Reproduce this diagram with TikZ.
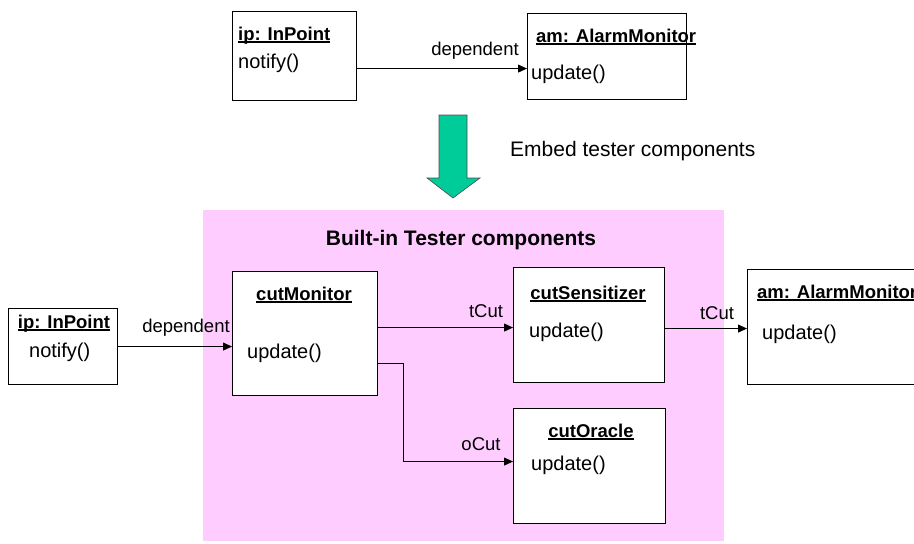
\documentclass[tikz,border=0pt]{standalone}
\usepackage{fontspec}
\setmainfont{Liberation Sans}
\usetikzlibrary{arrows.meta}
\definecolor{pinkbg}{HTML}{FFCCFF}
\definecolor{arrowgreen}{HTML}{00CC99}
\newcommand{\ulname}[1]{\setbox0\hbox{#1}\rlap{\rule[-2.6pt]{\wd0}{1.2pt}}\box0}
\begin{document}
\begin{tikzpicture}[x=1pt,y=-1pt,
  box/.style={draw=black, line width=1.1pt, fill=white, inner sep=0pt, anchor=north west},
  namet/.style={inner sep=0pt, font=\fontsize{18.5}{22}\selectfont\bfseries},
  meth/.style={inner sep=0pt, anchor=base west, font=\fontsize{20}{24}\selectfont},
  lbl/.style={inner sep=0pt, anchor=base, font=\fontsize{18.5}{22}\selectfont},
  conn/.style={draw=black, line width=0.9pt, -{Triangle[length=9pt,width=8pt]}}]
\useasboundingbox (0,0) rectangle (914,544);
\clip (0,0) rectangle (914,544);
% top row
\node[box, minimum width=124pt, minimum height=89pt] (ipT) at (232,11) {};
\node[namet, anchor=base west] (ipTn) at (238,40) {\ulname{ip: InPoint}};
\node[meth] (ipTm) at (238,68) {notify()};
\node[box, minimum width=159pt, minimum height=86pt] (amT) at (527,13) {};
\node[namet, anchor=base west] (amTn) at (536,42) {\ulname{am: AlarmMonitor}};
\node[meth] (amTm) at (531,79) {update()};
\draw[conn] ([yshift=-12.5pt]ipT.east) -- ([yshift=-12.5pt]ipT.east -| amT.west);
\node[lbl] (depT) at (475,55) {dependent};
% green arrow
\draw[fill=arrowgreen, draw=black!70, line width=0.6pt] (439,115) -- (467,115) -- (467,178) -- (480,178) -- (453,198) -- (427,178) -- (439,178) -- cycle;
\node[inner sep=0pt, anchor=base west, font=\fontsize{21}{25}\selectfont] (embed) at (510,156.5) {Embed tester components};
% pink region
\fill[pinkbg] (203,210) rectangle (724,541);
\node[inner sep=0pt, anchor=base, font=\fontsize{21}{25}\selectfont\bfseries] (title) at (461,245) {Built-in Tester components};
% bottom boxes
\node[box, minimum width=109pt, minimum height=76pt] (ipB) at (8,308) {};
\node[namet, anchor=base] (ipBn) at (64,328) {\ulname{ip: InPoint}};
\node[meth] (ipBm) at (29,357) {notify()};
\node[box, minimum width=145pt, minimum height=124pt] (cutM) at (232,271) {};
\node[namet, anchor=base] (cutMn) at (304,300) {\ulname{cutMonitor}};
\node[meth] (cutMm) at (247,358) {update()};
\node[box, minimum width=151pt, minimum height=115pt] (cutS) at (513,267) {};
\node[namet, anchor=base] (cutSn) at (588,299) {\ulname{cutSensitizer}};
\node[meth] (cutSm) at (529,337) {update()};
\node[box, minimum width=200pt, minimum height=115pt] (amB) at (747,269) {};
\node[namet, anchor=base west] (amBn) at (757,298) {\ulname{am: AlarmMonitor}};
\node[meth] (amBm) at (762,339) {update()};
\node[box, minimum width=152pt, minimum height=115pt] (cutO) at (513,408) {};
\node[namet, anchor=base] (cutOn) at (591,437) {\ulname{cutOracle}};
\node[meth] (cutOm) at (531,470) {update()};
% connectors
\draw[conn] (ipB.east) -- (ipB.east -| cutM.west);
\node[lbl] (depB) at (186,332) {dependent};
\draw[conn] ([yshift=6pt]cutM.east) -- ([yshift=6pt]cutM.east -| cutS.west);
\node[lbl] (tcut1) at (486,317) {tCut};
\draw[conn] ([yshift=-3.5pt]cutS.east) -- ([yshift=-3.5pt]cutS.east -| amB.west);
\node[lbl] (tcut2) at (717,319) {tCut};
\draw[conn] ([yshift=-30pt]cutM.east) -- ++(25,0) |- ([yshift=4.5pt]cutO.west);
\node[lbl] (ocut) at (481,450) {oCut};
\end{tikzpicture}
\end{document}
